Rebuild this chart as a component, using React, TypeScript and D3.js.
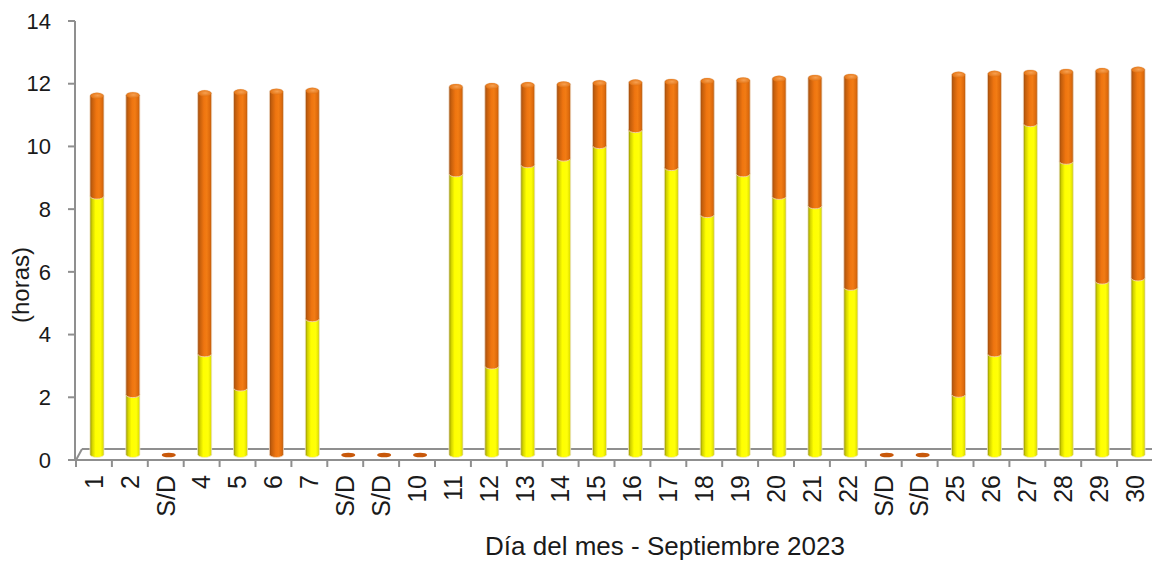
import * as d3 from "d3";
import React from "react";

// Día del mes (S/D = sin datos)
const dayLabels = [
  "1", "2", "S/D", "4", "5", "6", "7", "S/D", "S/D", "10",
  "11", "12", "13", "14", "15", "16", "17", "18", "19", "20",
  "21", "22", "S/D", "S/D", "25", "26", "27", "28", "29", "30",
];
// horas de sol (amarillo)
const sunHours = [
  8.24, 1.91, 0, 3.21, 2.12, 0, 4.33, 0, 0, 0,
  8.95, 2.82, 9.24, 9.45, 9.85, 10.36, 9.15, 7.65, 8.95, 8.23,
  7.93, 5.33, 0, 0, 1.92, 3.21, 10.55, 9.35, 5.53, 5.63,
];
// duración del día (tope naranja)
const dayLength = [
  11.44, 11.46, 0, 11.52, 11.55, 11.57, 11.6, 0, 0, 0,
  11.72, 11.75, 11.78, 11.8, 11.84, 11.86, 11.88, 11.91, 11.93, 11.98,
  12.01, 12.04, 0, 0, 12.11, 12.14, 12.17, 12.2, 12.23, 12.27,
];
const yTicks = [0, 2, 4, 6, 8, 10, 12, 14];

const W = 1152;
const H = 562;
const FONT = "'Liberation Sans', Arial, sans-serif";
const AXIS = "#8f8f8f";
const INK = "#1a1a1a";

export default function App() {
  const idx = dayLabels.map((_, i) => String(i));
  const x = d3.scaleBand().domain(idx).range([76, 1153]);
  const y = d3.scaleLinear().domain([0, 14]).range([460, 21]);
  // bars sit half way into the depth of the 3D floor
  const dx = 3;
  const dy = -5.5;
  const yb = (v: number) => y(v) + dy;
  const rx = 7;
  const ry = 3;

  const table = dayLabels.map((d, i) => ({
    key: String(i),
    sol: sunHours[i],
    resto: dayLength[i] > 0 ? dayLength[i] - sunHours[i] : 0,
  }));
  const stacked = d3.stack<any>().keys(["sol", "resto"])(table);

  const segPath = (cx: number, v0: number, v1: number) => {
    const x0 = cx - rx;
    const x1 = cx + rx;
    const b = yb(v0);
    const t = yb(v1);
    return `M${x0},${t} L${x0},${b} A${rx},${ry} 0 0 0 ${x1},${b} L${x1},${t} A${rx},${ry} 0 0 0 ${x0},${t} Z`;
  };

  const bw = x.bandwidth();

  return (
    <svg width={W} height={H} style={{ position: "absolute", left: 0, top: 0 }} fontFamily={FONT}>
      <defs>
        <linearGradient id="gOrange" x1="0" x2="1" y1="0" y2="0">
          <stop offset="0" stopColor="#9a4a10" />
          <stop offset="0.15" stopColor="#c45e0c" />
          <stop offset="0.45" stopColor="#ef7510" />
          <stop offset="0.65" stopColor="#f27c14" />
          <stop offset="0.88" stopColor="#dc690c" />
          <stop offset="1" stopColor="#b0580e" />
        </linearGradient>
        <linearGradient id="gYellow" x1="0" x2="1" y1="0" y2="0">
          <stop offset="0" stopColor="#8c8c00" />
          <stop offset="0.15" stopColor="#d0d000" />
          <stop offset="0.4" stopColor="#ffff00" />
          <stop offset="0.75" stopColor="#ffff08" />
          <stop offset="0.92" stopColor="#e4e400" />
          <stop offset="1" stopColor="#b4b400" />
        </linearGradient>
        <radialGradient id="gCap" cx="0.55" cy="0.45" r="0.6">
          <stop offset="0" stopColor="#f7a050" />
          <stop offset="1" stopColor="#e2700f" />
        </radialGradient>
      </defs>

      {/* floor of the 3D plot */}
      <g stroke={AXIS} strokeWidth={2} fill="none">
        <line x1={82} x2={W} y1={449} y2={449} />
        <line x1={76} x2={82} y1={460} y2={449} />
        <line x1={75} x2={W} y1={460} y2={460} />
        <line x1={75} x2={75} y1={y(14)} y2={460} />
        {yTicks.map((t) => (
          <line key={t} x1={68} x2={75} y1={y(t)} y2={y(t)} />
        ))}
        {d3.range(dayLabels.length + 1).map((i) => {
          const xx = 76 + i * bw;
          return <line key={i} x1={xx} x2={xx} y1={460} y2={467} />;
        })}
      </g>

      {/* y tick labels */}
      {yTicks.map((t) => (
        <text key={t} x={51} y={y(t)} dy="0.35em" textAnchor="end" fontSize={22} fill={INK}>
          {t}
        </text>
      ))}

      {/* bars */}
      {dayLabels.map((lab, i) => {
        const cx = (x(String(i)) as number) + bw / 2 + dx;
        const sol = stacked[0][i];
        const resto = stacked[1][i];
        if (dayLength[i] === 0) {
          return <ellipse key={i} cx={cx} cy={yb(0) + 0.5} rx={rx} ry={2.3} fill="#c8580a" />;
        }
        return (
          <g key={i}>
            {sol[1] > sol[0] && (
              <path d={segPath(cx, sol[0], sol[1])} fill="url(#gYellow)" stroke="#f3e8c8" strokeWidth={0.8} />
            )}
            <path d={segPath(cx, resto[0], resto[1])} fill="url(#gOrange)" stroke="#f0d8c0" strokeWidth={0.8} />
            <ellipse cx={cx} cy={yb(resto[1])} rx={rx - 0.6} ry={ry} fill="url(#gCap)" />
          </g>
        );
      })}

      {/* x tick labels */}
      {dayLabels.map((lab, i) => {
        const cx = (x(String(i)) as number) + bw / 2;
        return (
          <text
            key={i}
            transform={`translate(${cx},475) rotate(-90)`}
            textAnchor="end"
            dy="0.35em"
            fontSize={25}
            fill={INK}
          >
            {lab}
          </text>
        );
      })}

      {/* axis titles */}
      <text x={665} y={555} textAnchor="middle" fontSize={26} fill={INK}>
        Día del mes - Septiembre 2023
      </text>
      <text transform="translate(21,285) rotate(-90)" textAnchor="middle" dy="0.35em" fontSize={24} fill={INK}>
        (horas)
      </text>
    </svg>
  );
}
